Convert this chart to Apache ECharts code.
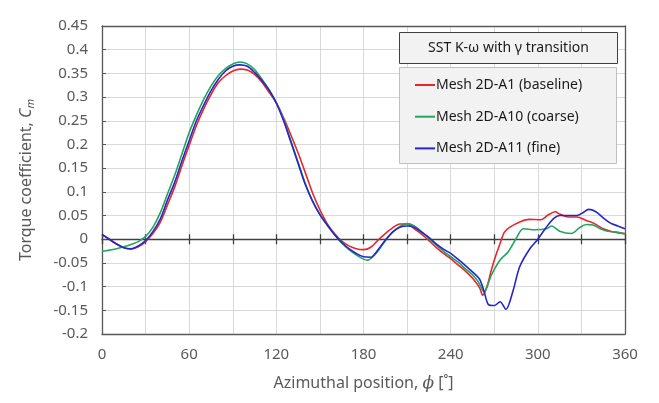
<!DOCTYPE html>
<html>
<head>
<meta charset="utf-8">
<script src="https://cdn.jsdelivr.net/npm/echarts@6/dist/echarts.min.js"></script>
<style>
  html, body { margin: 0; padding: 0; background: #fff; }
  #chart { width: 659px; height: 403px; }
</style>
</head>
<body>
<div id="chart"></div>
<script>
// azimuth (deg) and torque coefficient
const phiA1 = [0, 5, 10, 15, 20, 25, 30, 35, 40, 45, 50, 55, 60, 65, 70, 75, 80, 85, 90, 95, 100, 105, 110, 115, 120, 125, 130, 135, 140, 145, 150, 155, 160, 165, 170, 175, 180, 185, 190, 195, 200, 205, 210, 215, 220, 225, 230, 235, 240, 245, 250, 255, 260, 262, 265, 268, 271, 274, 277, 281, 288, 294, 302, 307, 312, 315, 321, 327, 333, 339, 345, 350, 355, 360];
const cmA1 = [0.010, 0.000, -0.010, -0.018, -0.021, -0.016, -0.005, 0.012, 0.035, 0.072, 0.110, 0.155, 0.198, 0.240, 0.275, 0.305, 0.330, 0.345, 0.355, 0.359, 0.357, 0.348, 0.332, 0.310, 0.288, 0.256, 0.220, 0.182, 0.140, 0.097, 0.062, 0.033, 0.012, -0.004, -0.014, -0.020, -0.022, -0.017, -0.002, 0.012, 0.024, 0.032, 0.032, 0.022, 0.011, -0.003, -0.017, -0.030, -0.041, -0.054, -0.067, -0.082, -0.103, -0.118, -0.100, -0.065, -0.035, -0.009, 0.015, 0.026, 0.037, 0.042, 0.041, 0.051, 0.058, 0.053, 0.047, 0.047, 0.040, 0.033, 0.022, 0.017, 0.014, 0.012];

const phiA10 = [0, 5, 10, 15, 20, 25, 30, 35, 40, 45, 50, 55, 60, 65, 70, 75, 80, 85, 90, 95, 100, 105, 110, 115, 120, 125, 130, 135, 140, 145, 150, 155, 160, 165, 170, 175, 180, 183, 187, 190, 195, 200, 205, 210, 215, 220, 225, 230, 235, 240, 245, 250, 255, 259, 263, 268, 274, 279.5, 285, 290, 298, 306, 309.5, 315, 323, 329, 333.5, 338, 343, 348, 354, 360];
const cmA10 = [-0.026, -0.023, -0.020, -0.016, -0.011, -0.005, 0.006, 0.025, 0.055, 0.095, 0.135, 0.180, 0.225, 0.262, 0.295, 0.323, 0.345, 0.360, 0.370, 0.374, 0.370, 0.358, 0.338, 0.315, 0.288, 0.252, 0.208, 0.162, 0.117, 0.080, 0.052, 0.030, 0.010, -0.008, -0.022, -0.033, -0.042, -0.044, -0.035, -0.025, -0.003, 0.015, 0.027, 0.033, 0.028, 0.016, 0.002, -0.012, -0.025, -0.037, -0.048, -0.062, -0.075, -0.090, -0.111, -0.076, -0.044, -0.027, 0.001, 0.022, 0.020, 0.022, 0.028, 0.017, 0.012, 0.025, 0.031, 0.030, 0.022, 0.017, 0.015, 0.011];

const phiA11 = [0, 5, 10, 15, 20, 25, 30, 35, 40, 45, 50, 55, 60, 65, 70, 75, 80, 85, 90, 95, 100, 105, 110, 115, 120, 125, 130, 135, 140, 145, 150, 155, 160, 165, 170, 175, 180, 185, 190, 195, 200, 205, 210, 215, 220, 225, 230, 235, 240, 245, 250, 255, 260, 263, 266, 270, 274, 278, 283, 287.5, 294.5, 300, 306, 311, 315, 320, 327, 331, 335, 340, 345, 350, 355, 360];
const cmA11 = [0.010, 0.000, -0.010, -0.018, -0.020, -0.014, -0.003, 0.016, 0.042, 0.082, 0.120, 0.165, 0.208, 0.250, 0.283, 0.313, 0.337, 0.355, 0.365, 0.368, 0.365, 0.352, 0.335, 0.315, 0.287, 0.250, 0.205, 0.160, 0.115, 0.080, 0.052, 0.030, 0.010, -0.007, -0.020, -0.030, -0.037, -0.038, -0.022, -0.002, 0.015, 0.025, 0.028, 0.025, 0.015, 0.004, -0.010, -0.021, -0.030, -0.042, -0.055, -0.069, -0.085, -0.110, -0.138, -0.140, -0.132, -0.148, -0.108, -0.058, -0.020, 0.000, 0.026, 0.044, 0.050, 0.050, 0.050, 0.056, 0.063, 0.058, 0.045, 0.034, 0.028, 0.022];

const seriesNames = ['Mesh 2D-A1 (baseline)', 'Mesh 2D-A10 (coarse)', 'Mesh 2D-A11 (fine)'];
const seriesColors = ['#e8262e', '#22a45c', '#2626c8'];
const xTickLabels = [0, 60, 120, 180, 240, 300, 360];
const legendTitle = 'SST K-\u03c9 with \u03b3 transition';

const pair = (xs, ys) => xs.map((x, i) => [x, ys[i]]);
const seriesData = [pair(phiA1, cmA1), pair(phiA10, cmA10), pair(phiA11, cmA11)];

const font = '"Noto Sans", "DejaVu Sans", sans-serif';
const axisGrey = '#595959';
const gridGrey = '#d9d9d9';

const chart = echarts.init(document.getElementById('chart'));

const baseX = { type: 'value', min: 0, max: 360, interval: 30 };
const baseY = { type: 'value', min: -0.2, max: 0.45, interval: 0.05 };

const option = {
  backgroundColor: '#fff',
  animation: false,
  grid: { left: 102, right: 34, top: 26, bottom: 69 },
  xAxis: [
    Object.assign({}, baseX, {
      position: 'bottom',
      name: 'Azimuthal position, {i|\u03d5} [\u02da]',
      nameLocation: 'middle',
      nameGap: 41,
      nameTextStyle: {
        fontFamily: font, fontSize: 16, color: axisGrey,
        rich: { i: { fontFamily: '"DejaVu Serif", serif', fontStyle: 'italic', fontSize: 17, color: axisGrey } }
      },
      axisLine: { show: true, onZero: false, lineStyle: { color: axisGrey, width: 1.3 } },
      axisTick: { show: false },
      axisLabel: {
        fontFamily: font, fontSize: 15, color: axisGrey, margin: 13,
        formatter: v => (xTickLabels.indexOf(v) >= 0 ? String(v) : '')
      },
      splitLine: { show: true, lineStyle: { color: gridGrey, width: 1 } }
    }),
    Object.assign({}, baseX, {
      position: 'top',
      axisLine: { show: true, onZero: false, lineStyle: { color: axisGrey, width: 1.3 } },
      axisTick: { show: false }, axisLabel: { show: false }, splitLine: { show: false }
    }),
    // zero line with crossing ticks (two halves)
    Object.assign({}, baseX, {
      position: 'bottom',
      axisLine: { show: true, onZero: true, lineStyle: { color: '#404040', width: 1.3 } },
      axisTick: { show: true, inside: true, length: 5, lineStyle: { color: '#404040', width: 1.3 } },
      axisLabel: { show: false }, splitLine: { show: false }
    }),
    Object.assign({}, baseX, {
      position: 'bottom',
      axisLine: { show: false, onZero: true },
      axisTick: { show: true, inside: false, length: 5, lineStyle: { color: '#404040', width: 1.3 } },
      axisLabel: { show: false }, splitLine: { show: false }
    })
  ],
  yAxis: [
    Object.assign({}, baseY, {
      position: 'left',
      name: 'Torque coefficient, {i|C}{s|m}',
      nameLocation: 'middle',
      nameGap: 66,
      nameTextStyle: {
        fontFamily: font, fontSize: 16, color: axisGrey,
        rich: {
          i: { fontFamily: font, fontStyle: 'italic', fontSize: 16, color: axisGrey },
          s: { fontFamily: font, fontStyle: 'italic', fontSize: 11, color: axisGrey, padding: [8, 0, 0, 0] }
        }
      },
      axisLine: { show: true, onZero: false, lineStyle: { color: axisGrey, width: 1.3 } },
      axisTick: { show: true, inside: true, length: 4, lineStyle: { color: axisGrey } },
      axisLabel: { fontFamily: font, fontSize: 15, color: axisGrey, margin: 14 },
      splitLine: { show: true, lineStyle: { color: gridGrey, width: 1 } }
    }),
    Object.assign({}, baseY, {
      position: 'right',
      axisLine: { show: true, onZero: false, lineStyle: { color: axisGrey, width: 1.3 } },
      axisTick: { show: false }, axisLabel: { show: false }, splitLine: { show: false }
    })
  ],
  legend: {
    orient: 'vertical',
    left: 415,
    top: 77,
    padding: 0,
    itemGap: 15.7,
    itemWidth: 20,
    itemHeight: 2,
    icon: 'rect',
    z: 20,
    textStyle: { fontFamily: font, fontSize: 14, color: '#1a1a1a', padding: [0, 0, 0, -4], lineHeight: 16 },
    data: seriesNames
  },
  graphic: [
    {
      type: 'rect', z: 10,
      shape: { x: 399.5, y: 32.5, width: 218, height: 31 },
      style: { fill: '#f2f2f2', stroke: '#404040', lineWidth: 1 }
    },
    {
      type: 'text', z: 11,
      x: 508.5, y: 48,
      style: { text: legendTitle, font: '14px ' + font, fill: '#1a1a1a', align: 'center', verticalAlign: 'middle' }
    },
    {
      type: 'rect', z: 10,
      shape: { x: 399.5, y: 67.5, width: 217, height: 96 },
      style: { fill: '#f2f2f2', stroke: '#bfbfbf', lineWidth: 1 }
    }
  ],
  series: seriesNames.map((name, i) => ({
    name: name,
    type: 'line',
    xAxisIndex: 0,
    yAxisIndex: 0,
    data: seriesData[i],
    smooth: 0.3,
    symbol: 'none',
    lineStyle: { color: seriesColors[i], width: 1.6 },
    itemStyle: { color: seriesColors[i] },
    z: 3
  }))
};

chart.setOption(option);
</script>
</body>
</html>
